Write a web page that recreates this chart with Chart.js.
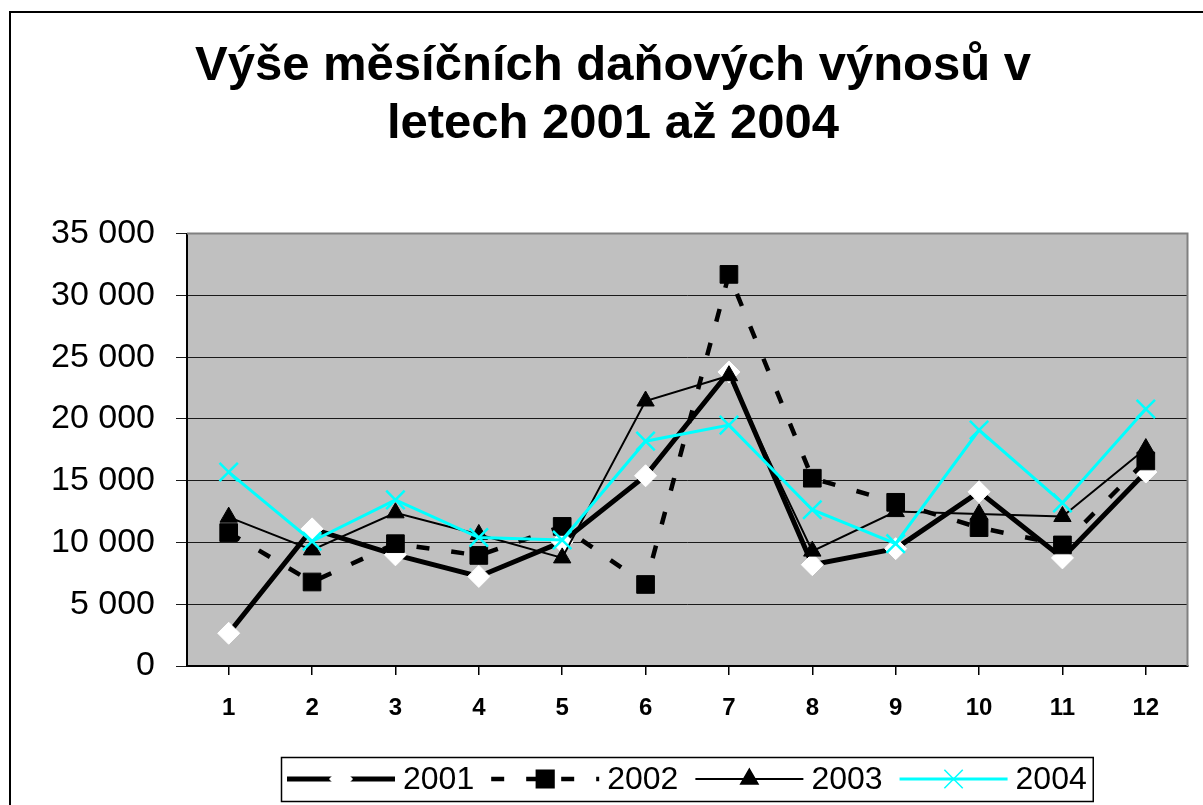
<!DOCTYPE html>
<html>
<head>
<meta charset="utf-8">
<script src="https://cdn.jsdelivr.net/npm/chart.js@4.4.1/dist/chart.umd.min.js"></script>
<style>
  body { margin: 0; background: #fff; }
  canvas { display: block; }
</style>
</head>
<body>
<canvas id="taxChart" width="1203" height="805"></canvas>
<script>
// Monthly tax revenue
const months = ['1', '2', '3', '4', '5', '6', '7', '8', '9', '10', '11', '12'];
const years = ['2001', '2002', '2003', '2004'];
const values2001 = [2650, 11100, 9000, 7250, 10050, 15400, 23800, 8200, 9500, 14100, 8750, 15700];
const values2002 = [10800, 6800, 9900, 8950, 11300, 6600, 31700, 15200, 13250, 11200, 9800, 16600];
const values2003 = [12050, 9400, 12400, 10650, 8750, 21450, 23500, 9300, 12500, 12300, 12100, 17600];
const values2004 = [15700, 10100, 13450, 10400, 10200, 18200, 19500, 12650, 9900, 19100, 13200, 20800];
const titleLines = ['Výše měsíčních daňových výnosů v', 'letech 2001 až 2004'];

const FONT = "'Liberation Sans', Arial, sans-serif";

// format 35000 -> "35 000"
function formatThousands(v) {
    return String(v).replace(/\B(?=(\d{3})+(?!\d))/g, ' ');
}

// Background, outer frame and grey plot area
const framePlugin = {
    id: 'frame',
    beforeDraw(chart) {
        const ctx = chart.ctx;
        const a = chart.chartArea;
        ctx.save();
        ctx.fillStyle = '#fff';
        ctx.fillRect(0, 0, chart.width, chart.height);
        ctx.strokeStyle = '#000';
        ctx.lineWidth = 2;
        ctx.beginPath();
        ctx.moveTo(10, chart.height + 5);
        ctx.lineTo(10, 12);
        ctx.lineTo(chart.width + 5, 12);
        ctx.stroke();
        ctx.fillStyle = '#c0c0c0';
        ctx.fillRect(a.left, a.top, a.right - a.left, a.bottom - a.top);
        ctx.restore();
    },
    beforeDatasetsDraw(chart) {
        const ctx = chart.ctx;
        const a = chart.chartArea;
        ctx.save();
        ctx.strokeStyle = '#808080';
        ctx.lineWidth = 2;
        ctx.beginPath();
        ctx.moveTo(a.left, a.top);
        ctx.lineTo(a.right, a.top);
        ctx.lineTo(a.right, a.bottom);
        ctx.stroke();
        ctx.restore();
    }
};

// Excel-like legend box below the axis: line sample with marker, then the label
const legendPlugin = {
    id: 'boxLegend',
    afterDraw(chart) {
        const ctx = chart.ctx;
        const a = chart.chartArea;
        const sampleW = 108, gapText = 8, gapItem = 17, pad = 6;
        const top = 757, bottom = 801;
        const midY = (top + bottom) / 2;
        ctx.save();
        ctx.font = '32px ' + FONT;
        const items = chart.data.datasets.map(ds => ({ ds, tw: ctx.measureText(ds.label).width }));
        let total = pad * 2 - gapItem;
        items.forEach(it => { total += sampleW + gapText + it.tw + gapItem; });
        const left = Math.round((a.left + a.right) / 2 - total / 2);

        ctx.fillStyle = '#fff';
        ctx.fillRect(left, top, total, bottom - top);
        ctx.strokeStyle = '#000';
        ctx.lineWidth = 1.5;
        ctx.strokeRect(left + 0.5, top + 0.5, total, bottom - top);

        let x = left + pad;
        items.forEach(it => {
            const ds = it.ds;
            ctx.save();
            ctx.strokeStyle = ds.borderColor;
            ctx.lineWidth = ds.borderWidth;
            ctx.lineCap = 'butt';
            ctx.setLineDash(ds.borderDash || []);
            ctx.beginPath();
            ctx.moveTo(x, midY);
            ctx.lineTo(x + sampleW, midY);
            ctx.stroke();
            ctx.restore();

            ctx.save();
            ctx.fillStyle = ds.pointBackgroundColor;
            ctx.strokeStyle = ds.pointBorderColor;
            Chart.helpers.drawPoint(ctx, {
                pointStyle: ds.pointStyle,
                radius: ds.pointRadius,
                borderWidth: ds.pointBorderWidth,
                rotation: 0
            }, x + sampleW / 2, midY);
            ctx.restore();

            ctx.fillStyle = '#000';
            ctx.textBaseline = 'middle';
            ctx.textAlign = 'left';
            ctx.fillText(ds.label, x + sampleW + gapText, midY + 1);
            x += sampleW + gapText + it.tw + gapItem;
        });
        ctx.restore();
    }
};

const ctx = document.getElementById('taxChart').getContext('2d');
new Chart(ctx, {
    type: 'line',
    data: {
        labels: months,
        datasets: [
            {
                label: years[0],
                data: values2001,
                borderColor: '#000',
                borderWidth: 5,
                pointStyle: 'rectRot',
                pointRadius: 11,
                pointBackgroundColor: '#fff',
                pointBorderColor: '#fff',
                pointBorderWidth: 1,
                order: 3
            },
            {
                label: years[1],
                data: values2002,
                borderColor: '#000',
                borderWidth: 4.5,
                borderDash: [13, 22],
                pointStyle: 'rect',
                pointRadius: 12.5,
                pointBackgroundColor: '#000',
                pointBorderColor: '#000',
                pointBorderWidth: 1,
                order: 2
            },
            {
                label: years[2],
                data: values2003,
                borderColor: '#000',
                borderWidth: 2,
                pointStyle: 'triangle',
                pointRadius: 10,
                pointBackgroundColor: '#000',
                pointBorderColor: '#000',
                pointBorderWidth: 1,
                order: 1
            },
            {
                label: years[3],
                data: values2004,
                borderColor: '#00ffff',
                borderWidth: 3,
                pointStyle: 'crossRot',
                pointRadius: 13,
                pointBackgroundColor: '#00ffff',
                pointBorderColor: '#00ffff',
                pointBorderWidth: 2.5,
                order: 0
            }
        ]
    },
    options: {
        responsive: false,
        animation: false,
        tension: 0,
        layout: { padding: { left: 38, right: 15, top: 0, bottom: 0 } },
        plugins: {
            legend: { display: false },
            tooltip: { enabled: false },
            title: {
                display: true,
                text: titleLines,
                color: '#000',
                font: { family: FONT, size: 49, weight: 'bold', lineHeight: 1.19 },
                padding: { top: 37, bottom: 80 }
            }
        },
        scales: {
            x: {
                offset: true,
                grid: {
                    display: true,
                    drawOnChartArea: false,
                    drawTicks: true,
                    tickLength: 9,
                    color: '#000',
                    lineWidth: 1.5
                },
                border: { display: true, color: '#000', width: 2 },
                ticks: {
                    color: '#000',
                    padding: 19,
                    font: { family: FONT, size: 24, weight: 'bold' }
                },
                afterFit(scale) { scale.height = 139; }
            },
            y: {
                min: 0,
                max: 35000,
                grid: {
                    color: '#1a1a1a',
                    lineWidth: 1,
                    drawTicks: true,
                    tickLength: 11
                },
                border: { display: true, color: '#000', width: 2 },
                ticks: {
                    stepSize: 5000,
                    color: '#000',
                    padding: 21,
                    font: { family: FONT, size: 34 },
                    callback: value => formatThousands(value)
                },
                afterFit(scale) { scale.width = 149; }
            }
        }
    },
    plugins: [framePlugin, legendPlugin]
});
</script>
</body>
</html>
